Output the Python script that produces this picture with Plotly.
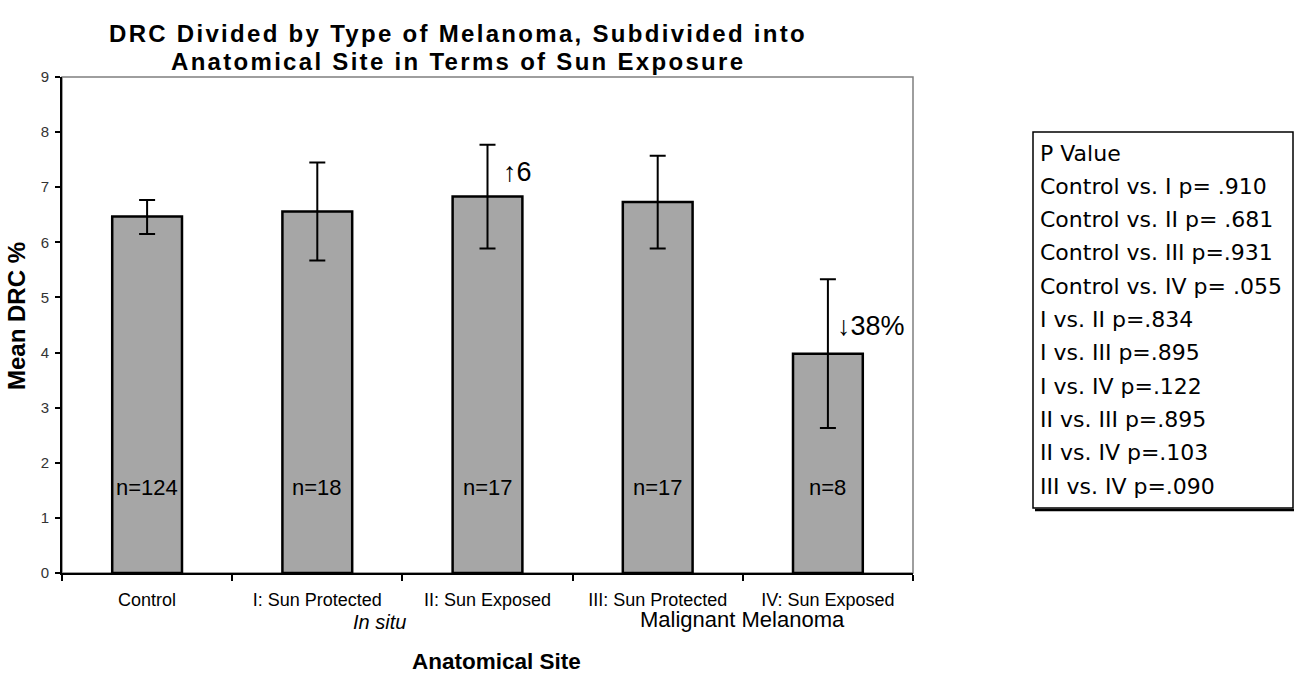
import plotly.graph_objects as go

# Mean DRC % per anatomical site, with error-bar half widths
categories = ["Control", "I: Sun Protected", "II: Sun Exposed",
              "III: Sun Protected", "IV: Sun Exposed"]
mean_drc = [6.47, 6.56, 6.83, 6.73, 3.98]
err_up = [0.30, 0.89, 0.94, 0.84, 1.35]
err_down = [0.32, 0.89, 0.94, 0.84, 1.35]
n_labels = ["n=124", "n=18", "n=17", "n=17", "n=8"]
n_label_y = 1.55

p_values = ["P Value",
            "Control vs. I p= .910",
            "Control vs. II p= .681",
            "Control vs. III p=.931",
            "Control vs. IV p= .055",
            "I vs. II p=.834",
            "I vs. III p=.895",
            "I vs. IV p=.122",
            "II vs. III p=.895",
            "II vs. IV p=.103",
            "III vs. IV p=.090"]

title_lines = ["DRC Divided by Type of Melanoma, Subdivided into",
               "Anatomical Site in Terms of Sun Exposure"]

W, H = 1294, 674
L, R, T, B = 62, 381, 77, 101
PW, PH = W - L - R, H - T - B


def px(xp):
    return (xp - L) / PW


def py(yp):
    return (H - B - yp) / PH


FONT = "Liberation Sans, Arial, sans-serif"


def label(xp, yp, text, size, xanchor="center", family=FONT, angle=0):
    return dict(xref="paper", yref="paper", x=px(xp), y=py(yp),
                xanchor=xanchor, yanchor="middle", text=text,
                textangle=angle, showarrow=False,
                font=dict(family=family, size=size, color="black"))


fig = go.Figure()
fig.add_trace(go.Bar(
    x=categories, y=mean_drc,
    marker=dict(color="#a6a6a6", line=dict(color="black", width=2.5)),
    error_y=dict(type="data", symmetric=False, array=err_up,
                 arrayminus=err_down, color="black", thickness=2, width=8),
    showlegend=False,
))

annotations = []
for c, t in zip(categories, n_labels):
    annotations.append(dict(x=c, y=n_label_y, text=t, showarrow=False,
                            xanchor="center", yanchor="middle",
                            font=dict(family=FONT, size=22, color="black")))

annotations.append(dict(x=categories[2], y=7.28, xshift=30, text="↑6",
                        showarrow=False, xanchor="center", yanchor="middle",
                        font=dict(family=FONT, size=27, color="black")))
annotations.append(dict(x=categories[4], y=4.48, xshift=43, text="↓38%",
                        showarrow=False, xanchor="center", yanchor="middle",
                        font=dict(family=FONT, size=27, color="black")))

# Group labels under the category axis
annotations.append(label(379, 622, "<i>In situ</i>", 20))
annotations.append(label(742, 619, "Malignant Melanoma", 22))

# Axis titles
annotations.append(label(16, 316, "<b>Mean DRC %</b>", 24, angle=-90))
annotations.append(label(497, 661, "<b>Anatomical Site</b>", 22.5))

# Chart title, two centred lines with slightly open letter spacing
title_style = "letter-spacing:2.3px"
annotations.append(label(458, 33, f"<span style='{title_style}'><b>{title_lines[0]}</b></span>", 24))
annotations.append(label(458, 62, f"<span style='{title_style}'><b>{title_lines[1]}</b></span>", 24))

# P value table
for i, t in enumerate(p_values):
    annotations.append(label(1038, 153 + 33.3 * i, t, 22, xanchor="left",
                             family="DejaVu Sans, sans-serif"))

shapes = [
    dict(type="rect", xref="paper", yref="paper", x0=0, x1=1, y0=0, y1=1,
         line=dict(color="#7f7f7f", width=1.5), layer="below"),
    dict(type="rect", xref="paper", yref="paper", x0=px(1033), x1=px(1293),
         y0=py(508), y1=py(132), line=dict(color="black", width=1.5),
         fillcolor="white", layer="below"),
    dict(type="line", xref="paper", yref="paper", x0=px(1035), x1=px(1294),
         y0=py(510), y1=py(510), line=dict(color="black", width=2.5)),
]

fig.update_layout(
    width=W, height=H,
    margin=dict(l=L, r=R, t=T, b=B, autoexpand=False),
    paper_bgcolor="white", plot_bgcolor="white",
    bargap=0.59,
    xaxis=dict(showline=True, linecolor="black", linewidth=2,
               ticks="outside", tickson="boundaries", ticklen=6,
               tickcolor="black", tickwidth=1.5, ticklabelstandoff=9,
               tickfont=dict(family=FONT, size=18, color="black"),
               showgrid=False, zeroline=False, fixedrange=True),
    yaxis=dict(range=[0, 9], dtick=1, showline=True, linecolor="black",
               linewidth=2, ticks="outside", ticklen=5, tickcolor="black",
               tickwidth=1.5, ticklabelstandoff=3,
               tickfont=dict(family=FONT, size=15, color="#333333"),
               showgrid=False, zeroline=False),
    annotations=annotations,
    shapes=shapes,
)

fig.write_html("out.html")
